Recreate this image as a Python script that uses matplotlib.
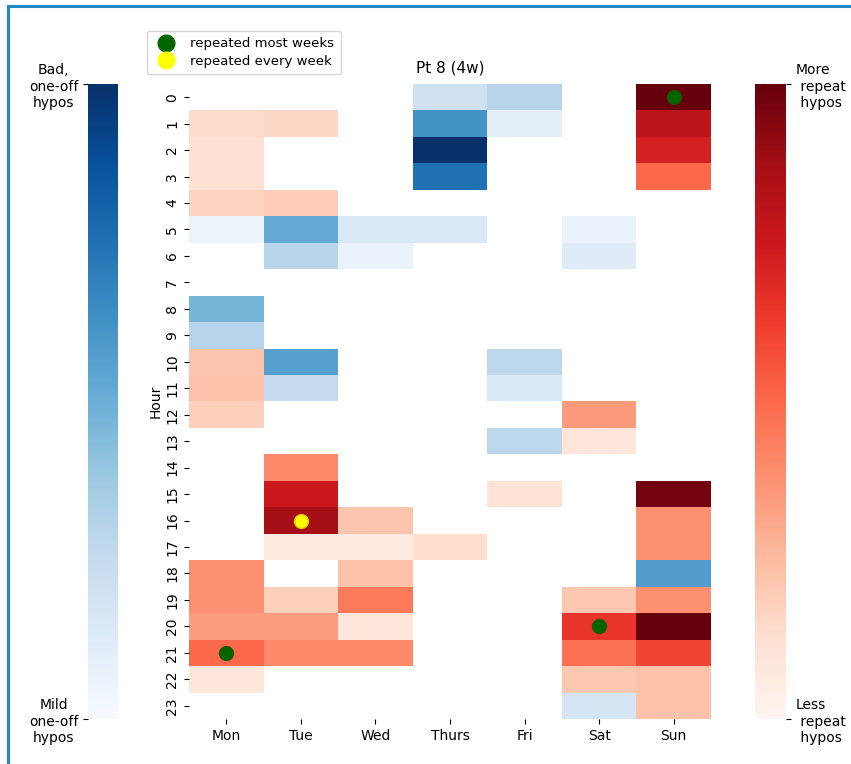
import numpy as np
import matplotlib
matplotlib.use("Agg")
import matplotlib.pyplot as plt
import seaborn as sns
from matplotlib.lines import Line2D
from matplotlib.patches import Rectangle

days = ["Mon", "Tue", "Wed", "Thurs", "Fri", "Sat", "Sun"]
hours = list(range(24))
N = np.nan

# repeat hypos (Reds), one value per (hour, day)
reds = np.array([
    [N,    N,    N,    N,    N,    N,    1.00],
    [0.14, 0.16, N,    N,    N,    N,    0.80],
    [0.12, N,    N,    N,    N,    N,    0.72],
    [0.12, N,    N,    N,    N,    N,    0.50],
    [0.17, 0.19, N,    N,    N,    N,    N],
    [N,    N,    N,    N,    N,    N,    N],
    [N,    N,    N,    N,    N,    N,    N],
    [N,    N,    N,    N,    N,    N,    N],
    [N,    N,    N,    N,    N,    N,    N],
    [N,    N,    N,    N,    N,    N,    N],
    [0.22, N,    N,    N,    N,    N,    N],
    [0.23, N,    N,    N,    N,    N,    N],
    [0.18, N,    N,    N,    N,    0.35, N],
    [N,    N,    N,    N,    N,    0.09, N],
    [N,    0.40, N,    N,    N,    N,    N],
    [N,    0.75, N,    N,    0.11, N,    0.97],
    [N,    0.87, 0.22, N,    N,    N,    0.38],
    [N,    0.07, 0.07, 0.13, N,    N,    0.38],
    [0.38, N,    0.23, N,    N,    N,    N],
    [0.38, 0.18, 0.45, N,    N,    0.21, 0.38],
    [0.34, 0.34, 0.09, N,    N,    0.65, 1.00],
    [0.50, 0.40, 0.40, N,    N,    0.48, 0.60],
    [0.09, N,    N,    N,    N,    0.21, 0.23],
    [N,    N,    N,    N,    N,    N,    0.23],
])

# one-off hypos (Blues)
blues = np.array([
    [N,    N,    N,    0.20, 0.30, N,    N],
    [N,    N,    N,    0.62, 0.10, N,    N],
    [N,    N,    N,    1.00, N,    N,    N],
    [N,    N,    N,    0.75, N,    N,    N],
    [N,    N,    N,    N,    N,    N,    N],
    [0.06, 0.52, 0.15, 0.15, N,    0.07, N],
    [N,    0.30, 0.07, N,    N,    0.12, N],
    [N,    N,    N,    N,    N,    N,    N],
    [0.47, N,    N,    N,    N,    N,    N],
    [0.30, N,    N,    N,    N,    N,    N],
    [N,    0.56, N,    N,    0.28, N,    N],
    [N,    0.25, N,    N,    0.15, N,    N],
    [N,    N,    N,    N,    N,    N,    N],
    [N,    N,    N,    N,    0.28, N,    N],
    [N,    N,    N,    N,    N,    N,    N],
    [N,    N,    N,    N,    N,    N,    N],
    [N,    N,    N,    N,    N,    N,    N],
    [N,    N,    N,    N,    N,    N,    N],
    [N,    N,    N,    N,    N,    N,    0.58],
    [N,    N,    N,    N,    N,    N,    N],
    [N,    N,    N,    N,    N,    N,    N],
    [N,    N,    N,    N,    N,    N,    N],
    [N,    N,    N,    N,    N,    N,    N],
    [N,    N,    N,    N,    N,    0.17, N],
])

# (hour, day index) markers
most_weeks = [(0, 6), (20, 5), (21, 0)]
every_week = [(16, 1)]

fig = plt.figure(figsize=(8.51, 7.64), dpi=100)
ax = fig.add_axes([0.2221, 0.0589, 0.6134, 0.8312])
cax_b = fig.add_axes([0.1034, 0.0589, 0.0353, 0.8312])
cax_r = fig.add_axes([0.8872, 0.0589, 0.0364, 0.8312])

sns.heatmap(blues, ax=ax, cmap="Blues", vmin=0, vmax=1, cbar_ax=cax_b)
sns.heatmap(reds, ax=ax, cmap="Reds", vmin=0, vmax=1, cbar_ax=cax_r)

for h, d in most_weeks:
    ax.plot(d + 0.5, h + 0.5, "o", ms=10, color="#006400", mec="#1a5a00")
for h, d in every_week:
    ax.plot(d + 0.5, h + 0.5, "o", ms=10, color="#ffff00", mec="#d8c800")

ax.set_xticks(np.arange(len(days)) + 0.5)
ax.set_xticklabels(days, rotation=0, fontsize=10)
ax.set_yticks(np.arange(len(hours)) + 0.5)
ax.set_yticklabels(hours, rotation=90, fontsize=10, va="center")
ax.set_ylabel("Hour", fontsize=10, labelpad=2)
ax.set_title("Pt 8 (4w)", fontsize=11, pad=8)

cax_b.yaxis.set_ticks_position("left")
cax_b.set_yticks([0, 1])
cax_b.set_yticklabels(["Mild\none-off\nhypos", "Bad,\none-off\nhypos"],
                      fontsize=10, multialignment="center")
cax_r.set_yticks([0, 1])
cax_r.set_yticklabels(["Less\n repeat\n hypos", "More\n repeat\n hypos"],
                      fontsize=10)

handles = [
    Line2D([], [], ls="", marker="o", ms=12, color="#006400"),
    Line2D([], [], ls="", marker="o", ms=12, color="#ffff00"),
]
fig.legend(handles, ["repeated most weeks", "repeated every week"],
           loc="upper left", bbox_to_anchor=(140 / 851, 1 - 24 / 764),
           fontsize=9.5, handletextpad=0.8, borderpad=0.5,
           labelspacing=0.35)

fig.add_artist(Rectangle((8 / 851, -0.1), 1.2, 1 - 6 / 764 + 0.1,
                         transform=fig.transFigure, fill=False,
                         ec="#1e88c8", lw=2.2))

fig.savefig("out.png", dpi=100)
